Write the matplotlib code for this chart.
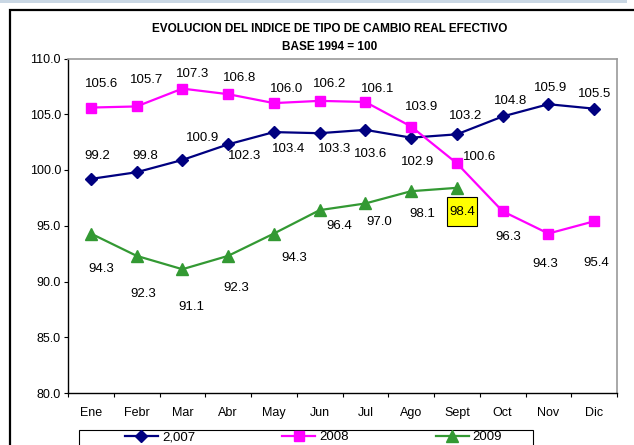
import matplotlib.pyplot as plt
from matplotlib.patches import Rectangle
from matplotlib.offsetbox import DrawingArea, AnnotationBbox

plt.rcParams['font.family'] = ['Liberation Sans', 'DejaVu Sans']

months = ["Ene", "Febr", "Mar", "Abr", "May", "Jun", "Jul", "Ago", "Sept", "Oct", "Nov", "Dic"]
v2007 = [99.2, 99.8, 100.9, 102.3, 103.4, 103.3, 103.6, 102.9, 103.2, 104.8, 105.9, 105.5]
v2008 = [105.6, 105.7, 107.3, 106.8, 106.0, 106.2, 106.1, 103.9, 100.6, 96.3, 94.3, 95.4]
v2009 = [94.3, 92.3, 91.1, 92.3, 94.3, 96.4, 97.0, 98.1, 98.4]

# label offsets in pixels (dx, dy), dy positive = up
off2007 = [(6, 23), (9, 16), (20, 22), (16, -12), (15, -17), (15, -16),
           (5, -24), (6, -24), (9, 18), (8, 15), (2, 16), (0, 15)]
off2008 = [(11, 24), (10, 26), (10, 15), (11, 16), (13, 14), (10, 17),
           (12, 13), (10, 20), (23, 6), (6, -26), (-3, -30), (2, -42)]
off2009 = [(10, -35), (7, -38), (9, -38), (8, -32), (20, -24), (20, -16),
           (14, -19), (11, -23), (5, -24)]

W, H = 634, 445
fig = plt.figure(figsize=(W / 100, H / 100), dpi=100)

# top light strip and outer chart frame
fig.patches.append(Rectangle((0, 1 - 3 / H), 627 / W, 3 / H, transform=fig.transFigure,
                             fc="#c9d7e4", ec="none"))
fig.patches.append(Rectangle((9.5 / W, -0.1), 1.2, 1 - 9.5 / H + 0.1, transform=fig.transFigure,
                             fc="none", ec="black", lw=1.6))
# legend box (cut by the bottom edge)
fig.patches.append(Rectangle((79 / W, -0.1), (533 - 79) / W, 1 - 429.5 / H + 0.1,
                             transform=fig.transFigure, fc="white", ec="black", lw=0.8))

ax = fig.add_axes([68 / W, 1 - 393 / H, (617 - 68) / W, (393 - 58.5) / H])
x = list(range(len(months)))

ax.plot(x, v2007, color="#000080", lw=1.6, marker="D", ms=6, label="2,007")
ax.plot(x, v2008, color="#ff00ff", lw=1.6, marker="s", ms=7, label="2008")
ax.plot(x[:len(v2009)], v2009, color="#339933", lw=1.6, marker="^", ms=8, label="2009")

for vals, offs in ((v2007, off2007), (v2008, off2008), (v2009, off2009)):
    for i, v in enumerate(vals):
        ax.annotate(f"{v:.1f}", (i, v), xytext=offs[i], textcoords="offset pixels",
                    ha="center", va="center", fontsize=9.5, color="black", zorder=5)

# yellow highlight box behind the last 2009 label
box = DrawingArea(22, 21)
box.add_artist(Rectangle((0, 0), 22, 21, fc="yellow", ec="black", lw=0.8))
last = len(v2009) - 1
ab = AnnotationBbox(box, (last, v2009[last]), xybox=off2009[last], boxcoords="offset pixels",
                    frameon=False, pad=0, zorder=4)
ax.add_artist(ab)

ax.set_xlim(-0.5, 11.5)
ax.set_ylim(80, 110)
ax.set_yticks([80, 85, 90, 95, 100, 105, 110])
ax.set_yticklabels([f"{t:.1f}" for t in [80, 85, 90, 95, 100, 105, 110]])
ax.set_xticks([i - 0.5 for i in range(13)])
ax.set_xticklabels([])
ax.set_xticks(x, minor=True)
ax.set_xticklabels(months, minor=True)
ax.tick_params(axis="x", which="major", length=3, width=0.8, direction="out")
ax.tick_params(axis="x", which="minor", length=0, pad=10, labelsize=9)
ax.tick_params(axis="y", length=3, width=0.8, labelsize=9, pad=2)

for s in ("left", "bottom"):
    ax.spines[s].set_color("black")
    ax.spines[s].set_linewidth(1)
for s in ("top", "right"):
    ax.spines[s].set_color("#9a9a9a")
    ax.spines[s].set_linewidth(1.2)

fig.text(330 / W, 1 - 29 / H, "EVOLUCION DEL INDICE DE TIPO DE CAMBIO REAL EFECTIVO",
         ha="center", va="center", fontsize=8.5, fontweight="bold")
fig.text(330 / W, 1 - 47 / H, "BASE 1994 = 100",
         ha="center", va="center", fontsize=8.5, fontweight="bold")

leg = fig.legend(loc="upper left", bbox_to_anchor=(125 / W, 1 - 431 / H),
                 ncol=3, frameon=False, fontsize=9.5, borderpad=0, borderaxespad=0,
                 handlelength=2.5, handletextpad=0.3, columnspacing=6.6)

fig.savefig("out.png", dpi=100)
